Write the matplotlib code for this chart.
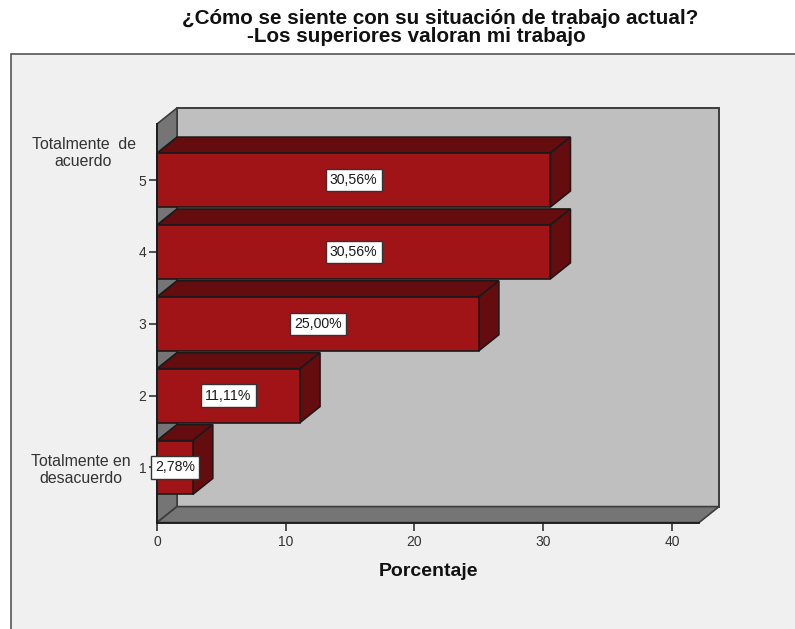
import matplotlib
matplotlib.use('Agg')
import matplotlib.pyplot as plt
from matplotlib.patches import Polygon, Rectangle

categories = [1, 2, 3, 4, 5]
percentages = [2.78, 11.11, 25.00, 30.56, 30.56]
value_labels = ['2,78%', '11,11%', '25,00%', '30,56%', '30,56%']
x_ticks = [0, 10, 20, 30, 40]

W, H = 795, 629
PANEL = '#f0f0f0'
WALL = '#bfbfbf'
FLOOR = '#757575'
FRONT = '#a01418'
SHADE = '#640c0e'
INK = '#1a1a1a'

plt.rcParams['font.family'] = ['Liberation Sans', 'DejaVu Sans']

fig = plt.figure(figsize=(W / 100, H / 100), dpi=100, facecolor='white')

# grey panel behind the plot, open on the right and bottom
fig.add_artist(Rectangle((11 / W, -0.02), 1, 1.02 - 54 / H, transform=fig.transFigure,
                         facecolor=PANEL, edgecolor='#555555', linewidth=1.2, zorder=-1))

left, right, top, bottom = 157, 699, 124, 522.6
ax = fig.add_axes([left / W, 1 - bottom / H, (right - left) / W, (bottom - top) / H])
ax.patch.set_alpha(0)
ax.set_xlim(0, 42.1)
ax.set_ylim(0.233, 5.78)

# depth of the 3D effect, converted to data units
dx = 20 * 42.1 / (right - left)
dy = 16 * (5.78 - 0.233) / (bottom - top)
x0, x1 = ax.get_xlim()
y0, y1 = ax.get_ylim()


def face(points, color, z=1, lw=1.2, edge=INK):
    ax.add_patch(Polygon(points, closed=True, facecolor=color, edgecolor=edge,
                         linewidth=lw, joinstyle='miter', clip_on=False, zorder=z))


# back wall, left wall and floor
face([(x0 + dx, y0 + dy), (x1 + dx, y0 + dy), (x1 + dx, y1 + dy), (x0 + dx, y1 + dy)], WALL, lw=1.4, edge='#3c3c3c')
face([(x0, y0), (x0 + dx, y0 + dy), (x0 + dx, y1 + dy), (x0, y1)], FLOOR, edge='#3c3c3c')
face([(x0, y0), (x1, y0), (x1 + dx, y0 + dy), (x0 + dx, y0 + dy)], FLOOR, edge='#3c3c3c')

# bars drawn from the top one down so each overlaps the one behind it
bar_h = 0.75
z = 2
for cat, val in sorted(zip(categories, percentages), reverse=True):
    lo, hi = cat - bar_h / 2, cat + bar_h / 2
    face([(0, hi), (val, hi), (val + dx, hi + dy), (dx, hi + dy)], SHADE, z)
    face([(val, lo), (val + dx, lo + dy), (val + dx, hi + dy), (val, hi)], SHADE, z)
    ax.barh(cat, val, height=bar_h, color=FRONT, edgecolor=INK, linewidth=1.2,
            zorder=z, clip_on=False)
    z += 1

for cat, val, lab in zip(categories, percentages, value_labels):
    ax.text(val / 2, cat, lab, ha='center', va='center', fontsize=10.2, color=INK, zorder=10,
            bbox=dict(boxstyle='square,pad=0.3', facecolor='white', edgecolor='#333333', linewidth=1.0))

for side in ('top', 'right'):
    ax.spines[side].set_visible(False)
for side in ('left', 'bottom'):
    ax.spines[side].set_linewidth(1.3)
    ax.spines[side].set_color(INK)
    ax.spines[side].set_zorder(3)

ax.set_xticks(x_ticks)
ax.set_yticks(categories)
ax.tick_params(axis='both', length=6, width=1.2, color='#333333', labelsize=10,
               labelcolor='#333333')
ax.tick_params(axis='x', pad=3)
ax.tick_params(axis='y', pad=1.5)
ax.set_xlabel('Porcentaje', fontsize=14, fontweight='bold', color='#111111', labelpad=10)

# the second title line sits left of the first one
fig.text(440 / W, 1 - 18 / H, '¿Cómo se siente con su situación de trabajo actual?',
         ha='center', va='center', fontsize=14.85, fontweight='bold', color='#111111')
fig.text(416.5 / W, 1 - 37 / H, '-Los superiores valoran mi trabajo',
         ha='center', va='center', fontsize=14.85, fontweight='bold', color='#111111')

# end labels of the agreement scale
fig.text(83.5 / W, 1 - 153 / H, 'Totalmente  de\nacuerdo', ha='center', va='center',
         fontsize=11.4, color='#333333', linespacing=1.1)
fig.text(81 / W, 1 - 470 / H, 'Totalmente en\ndesacuerdo', ha='center', va='center',
         fontsize=11.4, color='#333333', linespacing=1.1)

fig.savefig('out.png', dpi=100, facecolor=fig.get_facecolor())
